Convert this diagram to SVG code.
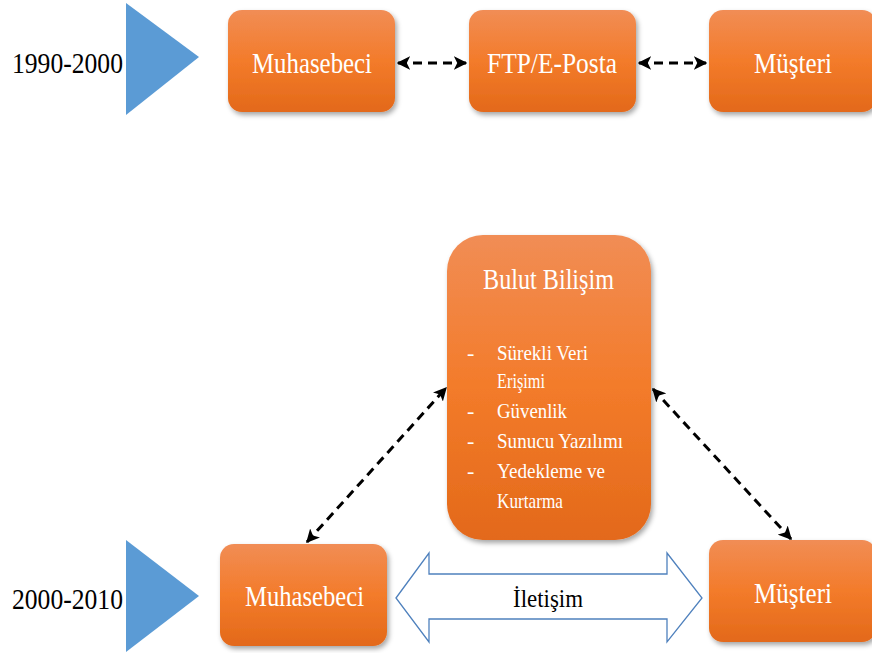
<svg xmlns="http://www.w3.org/2000/svg" width="872" height="653" viewBox="0 0 872 653">
<defs>
<linearGradient id="og" x1="0" y1="0" x2="0" y2="1">
<stop offset="0" stop-color="#F18D55"/>
<stop offset="0.5" stop-color="#F37B2A"/>
<stop offset="1" stop-color="#E3691A"/>
</linearGradient>
<filter id="sh" x="-10%" y="-10%" width="125%" height="130%">
<feDropShadow dx="2" dy="3" stdDeviation="2.5" flood-color="#000" flood-opacity="0.35"/>
</filter>
<marker id="ah" viewBox="0 0 10 10" refX="9" refY="5" markerWidth="4.5" markerHeight="4.5" orient="auto-start-reverse">
<path d="M0,0 L10,5 L0,10 L2.5,5 z" fill="#000"/>
</marker>
<style>
text{font-family:"Liberation Serif",serif;}
.box{fill:url(#og);filter:url(#sh);}
.bt{font-size:30px;fill:#fff;}
.yr{font-size:29px;fill:#000;}
.tri{fill:#5B9BD5;}
.dash{stroke:#000;stroke-width:3;stroke-dasharray:9,6;fill:none;marker-start:url(#ah);marker-end:url(#ah);}
.li{font-size:22px;fill:#fff;}
</style>
</defs>

<g id="year1">
<polygon class="tri" points="126,3 199,57 126,115"/>
<text class="yr" x="12" y="73" textLength="111" lengthAdjust="spacingAndGlyphs">1990-2000</text>
</g>
<g id="muhasebeci1">
<rect class="box" x="228" y="10" width="167" height="102" rx="14"/>
<text class="bt" x="252" y="73" textLength="120" lengthAdjust="spacingAndGlyphs">Muhasebeci</text>
</g>
<g id="ftp">
<rect class="box" x="469" y="10" width="167" height="102" rx="14"/>
<text class="bt" x="487" y="73" textLength="130" lengthAdjust="spacingAndGlyphs">FTP/E-Posta</text>
</g>
<g id="musteri1">
<rect class="box" x="709" y="10" width="167" height="102" rx="14"/>
<text class="bt" x="754" y="73" textLength="78" lengthAdjust="spacingAndGlyphs">Müşteri</text>
</g>

<g id="year2">
<polygon class="tri" points="126,540 199,596 126,652"/>
<text class="yr" x="12" y="609" textLength="111" lengthAdjust="spacingAndGlyphs">2000-2010</text>
</g>
<g id="bulut">
<rect class="box" x="447" y="235" width="204" height="305" rx="36"/>
<text class="bt" x="483" y="289" textLength="131" lengthAdjust="spacingAndGlyphs">Bulut Bilişim</text>
<text class="li" x="467" y="360">-</text>
<text class="li" x="497" y="360" textLength="91" lengthAdjust="spacingAndGlyphs">Sürekli Veri</text>
<text class="li" x="497" y="388" textLength="48" lengthAdjust="spacingAndGlyphs">Erişimi</text>
<text class="li" x="467" y="418">-</text>
<text class="li" x="497" y="418" textLength="70" lengthAdjust="spacingAndGlyphs">Güvenlik</text>
<text class="li" x="467" y="448">-</text>
<text class="li" x="497" y="448" textLength="126" lengthAdjust="spacingAndGlyphs">Sunucu Yazılımı</text>
<text class="li" x="467" y="478">-</text>
<text class="li" x="497" y="478" textLength="108" lengthAdjust="spacingAndGlyphs">Yedekleme ve</text>
<text class="li" x="497" y="508" textLength="66" lengthAdjust="spacingAndGlyphs">Kurtarma</text>
</g>
<g id="muhasebeci2">
<rect class="box" x="220" y="544" width="167" height="102" rx="14"/>
<text class="bt" x="245" y="606" textLength="119" lengthAdjust="spacingAndGlyphs">Muhasebeci</text>
</g>
<g id="musteri2">
<rect class="box" x="709" y="540" width="167" height="102" rx="14"/>
<text class="bt" x="754" y="603" textLength="78" lengthAdjust="spacingAndGlyphs">Müşteri</text>
</g>

<g id="connectors">
<line class="dash" x1="398" y1="63" x2="466" y2="63"/>
<line class="dash" x1="639" y1="63" x2="706" y2="63"/>
<line class="dash" x1="307" y1="542" x2="446" y2="388"/>
<line class="dash" x1="653" y1="389" x2="791" y2="539"/>
<polygon points="396,598 429,553 429,574 667,574 667,553 702,598 667,642 667,619 429,619 429,642" fill="#fff" stroke="#4F81BD" stroke-width="1.3"/>
<text x="513" y="607" font-size="25" fill="#000" textLength="70" lengthAdjust="spacingAndGlyphs">İletişim</text>
</g>
</svg>
